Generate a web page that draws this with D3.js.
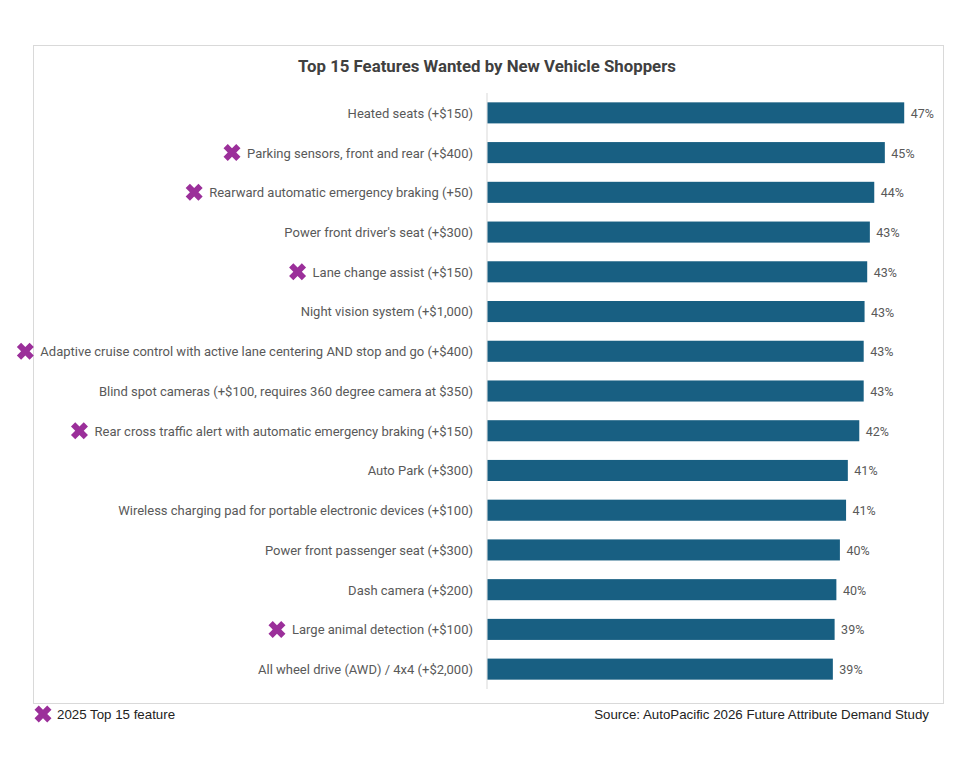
<!DOCTYPE html>
<html>
<head>
<meta charset="utf-8">
<script src="https://cdn.jsdelivr.net/npm/d3@7"></script>
<style>
  body { margin: 0; background: #fff; }
  svg { display: block; }
</style>
</head>
<body>
<div id="chart"></div>
<script>
/** DATA */
const features = [
  "Heated seats (+$150)",
  "Parking sensors, front and rear (+$400)",
  "Rearward automatic emergency braking (+50)",
  "Power front driver's seat (+$300)",
  "Lane change assist (+$150)",
  "Night vision system (+$1,000)",
  "Adaptive cruise control with active lane centering AND stop and go (+$400)",
  "Blind spot cameras (+$100, requires 360 degree camera at $350)",
  "Rear cross traffic alert with automatic emergency braking (+$150)",
  "Auto Park (+$300)",
  "Wireless charging pad for portable electronic devices (+$100)",
  "Power front passenger seat (+$300)",
  "Dash camera (+$200)",
  "Large animal detection (+$100)",
  "All wheel drive (AWD) / 4x4 (+$2,000)"
];
const shares = [47.3, 45.1, 43.9, 43.4, 43.1, 42.8, 42.7, 42.7, 42.2, 40.9, 40.7, 40.0, 39.6, 39.4, 39.2];
const top2025 = [false, true, true, false, true, false, true, false, true, false, false, false, false, true, false];

const data = features.map((f, i) => ({ feature: f, share: shares[i], top2025: top2025[i] }));

/** CONSTANTS */
const width = 980, height = 764;
const purple = "#9b2f9a";
const barColor = "#185f82";
const textColor = "#595959";

const svg = d3.select("#chart").append("svg")
  .attr("width", width)
  .attr("height", height);

// frame
svg.append("rect")
  .attr("x", 33.5).attr("y", 45.5)
  .attr("width", 910).attr("height", 658)
  .attr("fill", "none")
  .attr("stroke", "#d9d9d9");

svg.append("text")
  .attr("x", 487).attr("y", 72)
  .attr("text-anchor", "middle")
  .attr("font-family", "Roboto, sans-serif")
  .attr("font-weight", "bold")
  .attr("font-size", 16.8)
  .attr("fill", "#404040")
  .text("Top 15 Features Wanted by New Vehicle Shoppers");

const xScale = d3.scaleLinear()
  .domain([0, 50])
  .range([487, 927.5]);

const yScale = d3.scaleBand()
  .domain(features)
  .range([93, 689])
  .paddingInner(0.47)
  .paddingOuter(0.235);

// axis line
svg.append("line")
  .attr("x1", xScale(0)).attr("x2", xScale(0))
  .attr("y1", 93).attr("y2", 689)
  .attr("stroke", "#d9d9d9");

svg.selectAll("rect.bar")
  .data(data)
  .join("rect")
  .attr("class", "bar")
  .attr("x", xScale(0) + 0.5)
  .attr("y", d => yScale(d.feature))
  .attr("width", d => xScale(d.share) - xScale(0))
  .attr("height", yScale.bandwidth())
  .attr("fill", barColor);

svg.selectAll("text.value")
  .data(data)
  .join("text")
  .attr("class", "value")
  .attr("x", d => xScale(d.share) + 7)
  .attr("y", d => yScale(d.feature) + yScale.bandwidth() / 2)
  .attr("dy", "0.4em")
  .attr("font-family", "Roboto, sans-serif")
  .attr("font-size", 12.5)
  .attr("fill", textColor)
  .text(d => Math.round(d.share) + "%");

const labels = svg.selectAll("text.feature")
  .data(data)
  .join("text")
  .attr("class", "feature")
  .attr("x", 473)
  .attr("y", d => yScale(d.feature) + yScale.bandwidth() / 2)
  .attr("dy", "0.38em")
  .attr("text-anchor", "end")
  .attr("font-family", "Roboto, sans-serif")
  .attr("font-size", 13)
  .attr("fill", textColor)
  .text(d => d.feature);

// purple X markers for 2025 top 15 features
const xMark = d3.symbol().type(d3.symbolCross).size(180);
labels.each(function (d) {
  if (!d.top2025) return;
  const w = this.getComputedTextLength();
  const cx = 473 - w - 15;
  const cy = yScale(d.feature) + yScale.bandwidth() / 2;
  svg.append("path")
    .attr("d", xMark())
    .attr("transform", `translate(${cx},${cy}) rotate(45)`)
    .attr("fill", purple);
});

// legend
svg.append("path")
  .attr("d", xMark())
  .attr("transform", "translate(43,714) rotate(45)")
  .attr("fill", purple);
svg.append("text")
  .attr("x", 57).attr("y", 719)
  .attr("font-family", "Liberation Sans, Arial, sans-serif")
  .attr("font-size", 13.3)
  .attr("fill", "#222")
  .text("2025 Top 15 feature");

svg.append("text")
  .attr("x", 929).attr("y", 719)
  .attr("text-anchor", "end")
  .attr("font-family", "Liberation Sans, Arial, sans-serif")
  .attr("font-size", 13.3)
  .attr("fill", "#222")
  .text("Source: AutoPacific 2026 Future Attribute Demand Study");
</script>
</body>
</html>
